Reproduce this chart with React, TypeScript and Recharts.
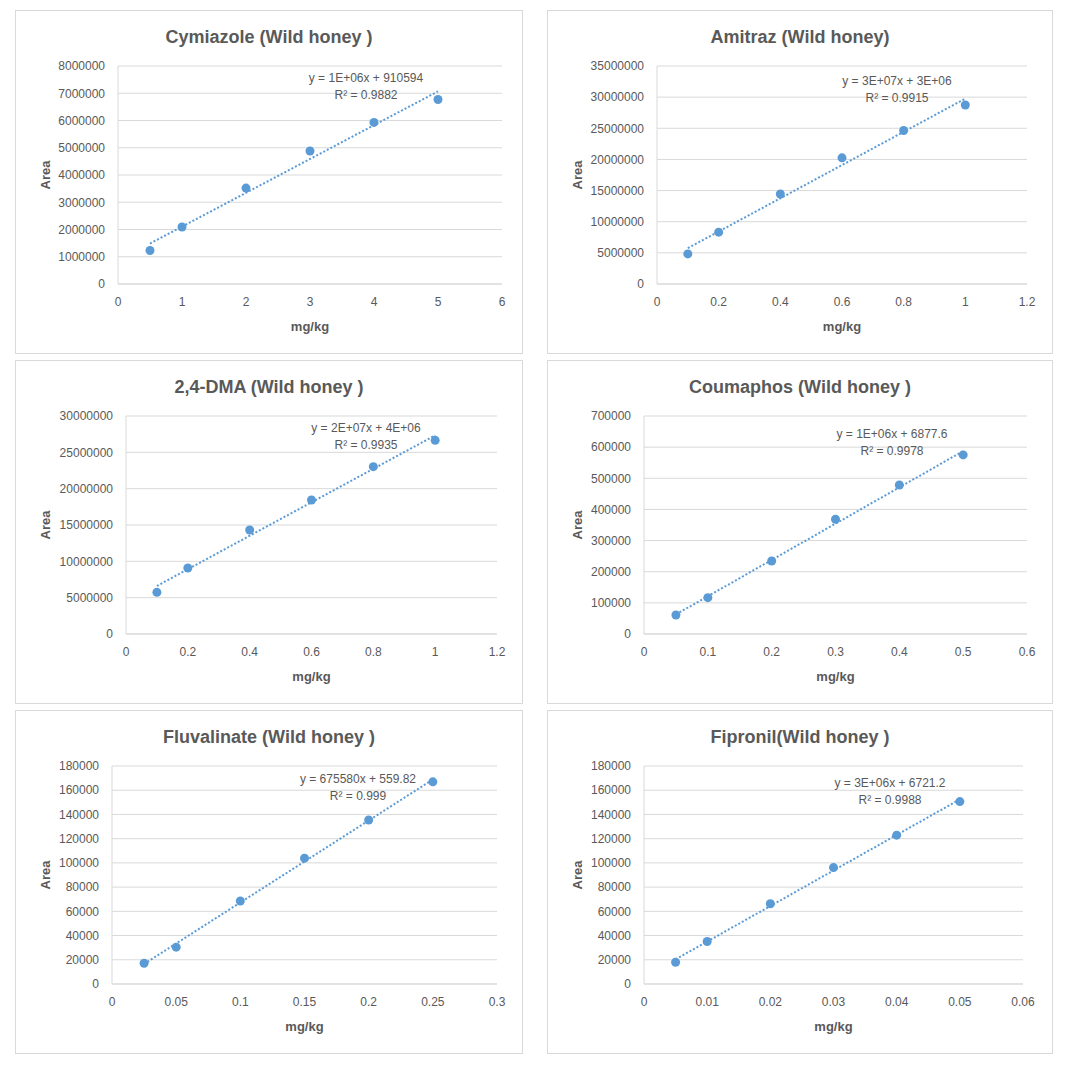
import React from "react";
import {
  ScatterChart,
  Scatter,
  XAxis,
  YAxis,
  CartesianGrid,
  ReferenceLine,
} from "recharts";

const BLUE = "#5b9bd5";
const GREY = "#595959";
const FONT = '"Liberation Sans", Arial, sans-serif';

// concentrations (mg/kg) and peak areas
const cymiazoleX = [0.5, 1, 2, 3, 4, 5];
const cymiazoleY = [1230000, 2090000, 3520000, 4880000, 5930000, 6770000];
const amitrazX = [0.1, 0.2, 0.4, 0.6, 0.8, 1];
const amitrazY = [4830000, 8320000, 14450000, 20250000, 24650000, 28730000];
const dmaX = [0.1, 0.2, 0.4, 0.6, 0.8, 1];
const dmaY = [5730000, 9080000, 14310000, 18440000, 23030000, 26650000];
const coumaphosX = [0.05, 0.1, 0.2, 0.3, 0.4, 0.5];
const coumaphosY = [61000, 116700, 234500, 368300, 478600, 575000];
const fluvalinateX = [0.025, 0.05, 0.1, 0.15, 0.2, 0.25];
const fluvalinateY = [17100, 30400, 68500, 103900, 135400, 166900];
const fipronilX = [0.005, 0.01, 0.02, 0.03, 0.04, 0.05];
const fipronilY = [18000, 35100, 66300, 96100, 122900, 150600];

// tick labels
const xTicksCym = [0, 1, 2, 3, 4, 5, 6];
const xTicks12 = [0, 0.2, 0.4, 0.6, 0.8, 1, 1.2];
const xTicks06 = [0, 0.1, 0.2, 0.3, 0.4, 0.5, 0.6];
const xTicks03 = [0, 0.05, 0.1, 0.15, 0.2, 0.25, 0.3];
const xTicks006 = [0, 0.01, 0.02, 0.03, 0.04, 0.05, 0.06];
const yTicksCym = [0, 1000000, 2000000, 3000000, 4000000, 5000000, 6000000, 7000000, 8000000];
const yTicksAmi = [0, 5000000, 10000000, 15000000, 20000000, 25000000, 30000000, 35000000];
const yTicksDma = [0, 5000000, 10000000, 15000000, 20000000, 25000000, 30000000];
const yTicksCou = [0, 100000, 200000, 300000, 400000, 500000, 600000, 700000];
const yTicks180k = [0, 20000, 40000, 60000, 80000, 100000, 120000, 140000, 160000, 180000];

// trendline labels as printed on the chart
const titles = [
  "Cymiazole (Wild honey )",
  "Amitraz (Wild honey)",
  "2,4-DMA (Wild honey )",
  "Coumaphos (Wild honey )",
  "Fluvalinate (Wild honey )",
  "Fipronil(Wild honey )",
];
const equations = [
  "y = 1E+06x + 910594",
  "y = 3E+07x + 3E+06",
  "y = 2E+07x + 4E+06",
  "y = 1E+06x + 6877.6",
  "y = 675580x + 559.82",
  "y = 3E+06x + 6721.2",
];
const rSquared = ["R² = 0.9882", "R² = 0.9915", "R² = 0.9935", "R² = 0.9978", "R² = 0.999", "R² = 0.9988"];

const H = 344;

const panels = [
  { xs: cymiazoleX, ys: cymiazoleY, xTicks: xTicksCym, yTicks: yTicksCym, left: 7, top: 2, w: 508, yw: 103, right: 21, ex: 351, ey: 77 },
  { xs: amitrazX, ys: amitrazY, xTicks: xTicks12, yTicks: yTicksAmi, left: 539, top: 2, w: 506, yw: 110, right: 26, ex: 350, ey: 80 },
  { xs: dmaX, ys: dmaY, xTicks: xTicks12, yTicks: yTicksDma, left: 7, top: 352, w: 508, yw: 111, right: 26, ex: 351, ey: 77 },
  { xs: coumaphosX, ys: coumaphosY, xTicks: xTicks06, yTicks: yTicksCou, left: 539, top: 352, w: 506, yw: 97, right: 26, ex: 345, ey: 83 },
  { xs: fluvalinateX, ys: fluvalinateY, xTicks: xTicks03, yTicks: yTicks180k, left: 7, top: 702, w: 508, yw: 97, right: 26, ex: 343, ey: 78 },
  { xs: fipronilX, ys: fipronilY, xTicks: xTicks006, yTicks: yTicks180k, left: 539, top: 702, w: 506, yw: 97, right: 30, ex: 343, ey: 82 },
];

// least squares linear trendline
function fit(xs: number[], ys: number[]) {
  const n = xs.length;
  const mx = xs.reduce((s, v) => s + v, 0) / n;
  const my = ys.reduce((s, v) => s + v, 0) / n;
  let sxy = 0;
  let sxx = 0;
  for (let i = 0; i < n; i++) {
    sxy += (xs[i] - mx) * (ys[i] - my);
    sxx += (xs[i] - mx) * (xs[i] - mx);
  }
  const slope = sxy / sxx;
  return { slope, icpt: my - slope * mx };
}

const Dot = (props: any) => <circle cx={props.cx} cy={props.cy} r={4.5} fill={BLUE} />;

function Panel({ p, idx }: { p: any; idx: number }) {
  const data = p.xs.map((x: number, i: number) => ({ x, y: p.ys[i] }));
  const { slope, icpt } = fit(p.xs, p.ys);
  const x0 = p.xs[0];
  const x1 = p.xs[p.xs.length - 1];
  const xt = p.xTicks;
  const yt = p.yTicks;
  return (
    <div
      style={{
        position: "absolute",
        left: p.left,
        top: p.top,
        width: p.w,
        height: H,
        outline: "1px solid #d9d9d9",
        outlineOffset: -1,
        background: "#fff",
        fontFamily: FONT,
      }}
    >
      <div
        style={{
          position: "absolute",
          left: 0,
          right: 0,
          top: 16,
          textAlign: "center",
          fontSize: 18,
          fontWeight: "bold",
          color: GREY,
          lineHeight: "22px",
        }}
      >
        {titles[idx]}
      </div>
      <ScatterChart
        width={p.w}
        height={H}
        margin={{ top: 56, right: p.right, bottom: 0, left: 0 }}
        style={{ fontFamily: FONT }}
      >
        <CartesianGrid vertical={false} stroke="#d9d9d9" />
        <XAxis
          type="number"
          dataKey="x"
          domain={[xt[0], xt[xt.length - 1]]}
          ticks={xt}
          interval={0}
          height={70}
          tickLine={false}
          axisLine={{ stroke: "#d9d9d9" }}
          tick={{ fill: GREY, fontSize: 12 }}
          tickMargin={7}
          label={{ value: "mg/kg", position: "center", dy: 7, fill: GREY, fontSize: 13, fontWeight: "bold" }}
        />
        <YAxis
          type="number"
          dataKey="y"
          domain={[yt[0], yt[yt.length - 1]]}
          ticks={yt}
          interval={0}
          width={p.yw}
          tickLine={false}
          axisLine={{ stroke: "#d9d9d9" }}
          tick={{ fill: GREY, fontSize: 12 }}
          tickMargin={7}
          label={{
            value: "Area",
            angle: -90,
            position: "center",
            dx: 30 - p.yw / 2,
            fill: GREY,
            fontSize: 13,
            fontWeight: "bold",
          }}
        />
        <ReferenceLine
          segment={[
            { x: x0, y: icpt + slope * x0 },
            { x: x1, y: icpt + slope * x1 },
          ]}
          stroke={BLUE}
          strokeWidth={2}
          strokeDasharray="2 2"
        />
        <Scatter data={data} fill={BLUE} shape={Dot} isAnimationActive={false} />
      </ScatterChart>
      <div
        style={{
          position: "absolute",
          left: p.ex,
          top: p.ey,
          transform: "translate(-50%, -50%)",
          textAlign: "center",
          fontSize: 12,
          color: GREY,
          lineHeight: "17px",
          whiteSpace: "nowrap",
        }}
      >
        {equations[idx]}
        <br />
        {rSquared[idx]}
      </div>
    </div>
  );
}

export default function App() {
  return (
    <div style={{ position: "relative", width: 1049, height: 1050 }}>
      {panels.map((p, i) => (
        <Panel key={i} p={p} idx={i} />
      ))}
    </div>
  );
}
